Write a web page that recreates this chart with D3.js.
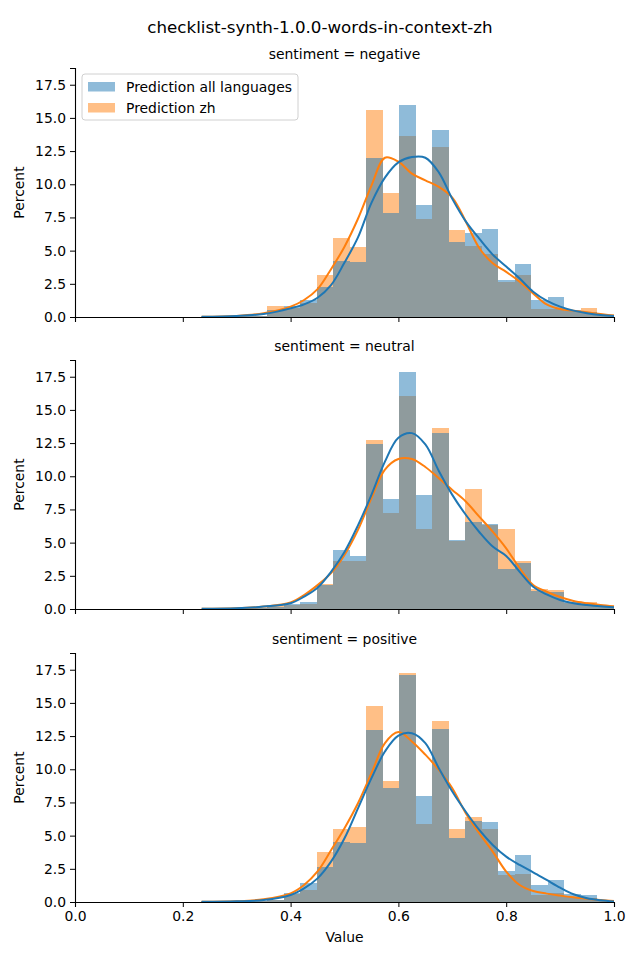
<!DOCTYPE html>
<html>
<head>
<meta charset="utf-8">
<script src="https://cdn.jsdelivr.net/npm/d3@7"></script>
<style>
  body { margin: 0; background: #fff; }
  svg { font-family: 'DejaVu Sans', sans-serif; }
</style>
</head>
<body>
<script>
const title = 'checklist-synth-1.0.0-words-in-context-zh';
const facets = ['sentiment = negative', 'sentiment = neutral', 'sentiment = positive'];
const seriesNames = ['Prediction all languages', 'Prediction zh'];
const xTicks = [0, 0.2, 0.4, 0.6, 0.8, 1.0];
const yTicks = [0, 2.5, 5, 7.5, 10, 12.5, 15, 17.5];

// histogram bins (common to all facets)
const binLo = 0.234, binHi = 1.0, binCount = 25;

// percent per bin
const negAll = [0.05, 0.05, 0.05, 0.1, 0.5, 0.8, 1.28, 2.24, 4.2, 4.15, 12.0, 7.84, 15.99, 8.45, 14.1, 5.66, 6.33, 6.64, 2.79, 4.0, 1.28, 1.48, 0.5, 0.4, 0.15];
const negZh  = [0.03, 0.05, 0.05, 0.1, 0.83, 0.7, 1.08, 3.17, 5.96, 5.28, 15.6, 9.35, 13.65, 7.39, 12.82, 6.56, 5.35, 4.75, 2.6, 3.17, 0.6, 0.6, 0.45, 0.68, 0.2];
const neuAll = [0.03, 0.05, 0.05, 0.1, 0.15, 0.4, 0.5, 1.8, 4.45, 4.0, 12.44, 8.3, 17.87, 8.6, 13.27, 5.22, 6.56, 6.41, 3.02, 3.47, 1.36, 1.25, 0.55, 0.4, 0.15];
const neuZh  = [0.02, 0.03, 0.05, 0.1, 0.3, 0.3, 0.4, 1.85, 3.6, 3.6, 12.74, 7.24, 16.06, 6.03, 13.65, 5.15, 9.05, 6.33, 6.03, 3.62, 1.51, 1.45, 0.45, 0.55, 0.25];
const posAll = [0.05, 0.05, 0.05, 0.08, 0.12, 0.65, 1.45, 2.64, 4.52, 4.45, 12.97, 8.6, 17.12, 7.99, 13.05, 4.83, 6.11, 6.03, 2.34, 3.54, 1.28, 1.66, 0.6, 0.5, 0.15];
const posZh  = [0.05, 0.05, 0.05, 0.08, 0.12, 0.6, 0.9, 3.77, 5.5, 5.65, 14.78, 9.12, 17.27, 5.88, 13.65, 5.5, 6.41, 5.5, 2.04, 2.11, 0.53, 0.65, 0.35, 0.3, 0.1];

// kde curves
const kdeX = [0.235, 0.3, 0.35, 0.4, 0.425, 0.45, 0.475, 0.5, 0.525, 0.55, 0.575, 0.6, 0.625, 0.65, 0.675, 0.7, 0.725, 0.75, 0.775, 0.8, 0.825, 0.85, 0.875, 0.9, 0.925, 0.95, 0.975, 1.0];
const negAllKde = [0.01, 0.08, 0.23, 0.65, 0.95, 1.45, 2.4, 4.1, 6.0, 8.6, 10.5, 11.65, 12.05, 12.0, 10.9, 8.9, 7.2, 5.9, 4.7, 3.8, 2.9, 1.9, 1.23, 0.78, 0.48, 0.28, 0.15, 0.08];
const negZhKde  = [0.01, 0.08, 0.28, 0.78, 1.28, 2.1, 3.6, 5.3, 7.4, 9.9, 12.0, 11.7, 10.8, 10.3, 9.8, 9.0, 7.2, 5.2, 4.05, 3.4, 2.66, 1.78, 0.95, 0.6, 0.48, 0.35, 0.23, 0.1];
const neuAllKde = [0.01, 0.05, 0.18, 0.43, 0.93, 1.6, 2.8, 4.3, 6.3, 8.6, 11.1, 12.9, 13.25, 12.4, 10.4, 8.6, 7.1, 5.8, 4.7, 4.0, 2.8, 1.68, 1.1, 0.68, 0.43, 0.3, 0.2, 0.13];
const neuZhKde  = [0.01, 0.05, 0.18, 0.5, 1.05, 1.8, 2.7, 4.07, 5.96, 8.35, 10.5, 11.3, 11.3, 10.7, 9.85, 8.97, 8.1, 6.96, 5.83, 4.57, 3.07, 1.81, 1.3, 0.9, 0.6, 0.43, 0.3, 0.2];
const posAllKde = [0.01, 0.05, 0.15, 0.53, 1.03, 1.78, 3.04, 4.8, 7.06, 9.33, 11.34, 12.54, 12.72, 11.97, 10.08, 8.32, 6.8, 5.43, 4.3, 3.42, 2.79, 2.24, 1.66, 1.08, 0.58, 0.28, 0.13, 0.03];
const posZhKde  = [0.01, 0.05, 0.2, 0.65, 1.28, 2.3, 3.9, 5.56, 7.44, 9.7, 11.97, 12.8, 12.1, 11.1, 9.95, 8.57, 6.69, 5.18, 3.8, 2.29, 1.28, 0.83, 0.63, 0.48, 0.35, 0.25, 0.15, 0.08];

const histAll = [negAll, neuAll, posAll];
const histZh = [negZh, neuZh, posZh];
const kdeAll = [negAllKde, neuAllKde, posAllKde];
const kdeZh = [negZhKde, neuZhKde, posZhKde];

const colors = ['#1f77b4', '#ff7f0e'];

const width = 640, height = 960;
const left = 75, right = 614;
const panelTop = [68, 360, 653];
const panelH = 249;
const yMax = 18.76;
const fontSize = '13.9px';

const svg = d3.select('body').append('svg')
    .attr('width', width)
    .attr('height', height)
    .attr('viewBox', [0, 0, width, height]);

svg.append('text')
    .attr('x', 320).attr('y', 33)
    .attr('text-anchor', 'middle')
    .attr('font-size', '16.7px')
    .text(title);

const x = d3.scaleLinear().domain([0, 1]).range([left, right]);
const binW = (binHi - binLo) / binCount;
const binEdges = d3.range(binCount).map(i => binLo + i * binW);

facets.forEach((facet, fi) => {
    const top = panelTop[fi], bottom = top + panelH;
    const y = d3.scaleLinear().domain([0, yMax]).range([bottom, top]);
    const g = svg.append('g');

    // seaborn draws the later hue first, so zh goes underneath
    [[histZh[fi], 1], [histAll[fi], 0]].forEach(([vals, si]) => {
        g.append('g')
            .attr('shape-rendering', 'crispEdges')
            .selectAll('rect')
            .data(vals)
            .join('rect')
            .attr('x', (d, i) => x(binEdges[i]))
            .attr('width', (d, i) => x(binEdges[i] + binW) - x(binEdges[i]))
            .attr('y', d => y(d))
            .attr('height', d => y(0) - y(d))
            .attr('fill', colors[si])
            .attr('fill-opacity', 0.5);
    });

    [[kdeZh[fi], 1], [kdeAll[fi], 0]].forEach(([vals, si]) => {
        const line = d3.line()
            .curve(d3.curveCatmullRom.alpha(0.5))
            .x((d, i) => x(kdeX[i]))
            .y(d => y(d));
        g.append('path')
            .attr('d', line(vals))
            .attr('fill', 'none')
            .attr('stroke', colors[si])
            .attr('stroke-width', 2);
    });

    // axes
    const ax = g.append('g')
        .attr('transform', 'translate(0,' + bottom + ')')
        .call(d3.axisBottom(x).tickValues(xTicks).tickFormat(fi == 2 ? d3.format('.1f') : '')
            .tickSizeOuter(0).tickSize(5).tickPadding(4));
    const ay = g.append('g')
        .attr('transform', 'translate(' + left + ',0)')
        .call(d3.axisLeft(y).tickValues(yTicks).tickFormat(d3.format('.1f'))
            .tickSizeOuter(0).tickSize(5).tickPadding(4));
    [ax, ay].forEach(a => {
        a.select('.domain').attr('stroke', '#000').attr('stroke-width', 1.1);
        a.selectAll('.tick line').attr('stroke', '#000');
        a.selectAll('.tick text').attr('font-size', fontSize).attr('fill', '#000')
            .attr('font-family', "'DejaVu Sans', sans-serif");
    });

    g.append('text')
        .attr('x', (left + right) / 2).attr('y', top - 9)
        .attr('text-anchor', 'middle')
        .attr('font-size', fontSize)
        .text(facet);

    g.append('text')
        .attr('transform', 'translate(24,' + (top + bottom) / 2 + ') rotate(-90)')
        .attr('text-anchor', 'middle')
        .attr('font-size', fontSize)
        .text('Percent');
});

svg.append('text')
    .attr('x', (left + right) / 2).attr('y', 942)
    .attr('text-anchor', 'middle')
    .attr('font-size', fontSize)
    .text('Value');

// legend
const legend = svg.append('g').attr('transform', 'translate(82,74)');
legend.append('rect')
    .attr('width', 216).attr('height', 46)
    .attr('rx', 3)
    .attr('fill', '#fff').attr('fill-opacity', 0.8)
    .attr('stroke', '#d0d0d0');
seriesNames.forEach((name, i) => {
    legend.append('rect')
        .attr('x', 6).attr('y', 8 + i * 21)
        .attr('width', 27).attr('height', 9.5)
        .attr('fill', colors[i]).attr('fill-opacity', 0.5);
    legend.append('text')
        .attr('x', 44).attr('y', 17.5 + i * 21)
        .attr('font-size', fontSize)
        .text(name);
});
</script>
</body>
</html>
